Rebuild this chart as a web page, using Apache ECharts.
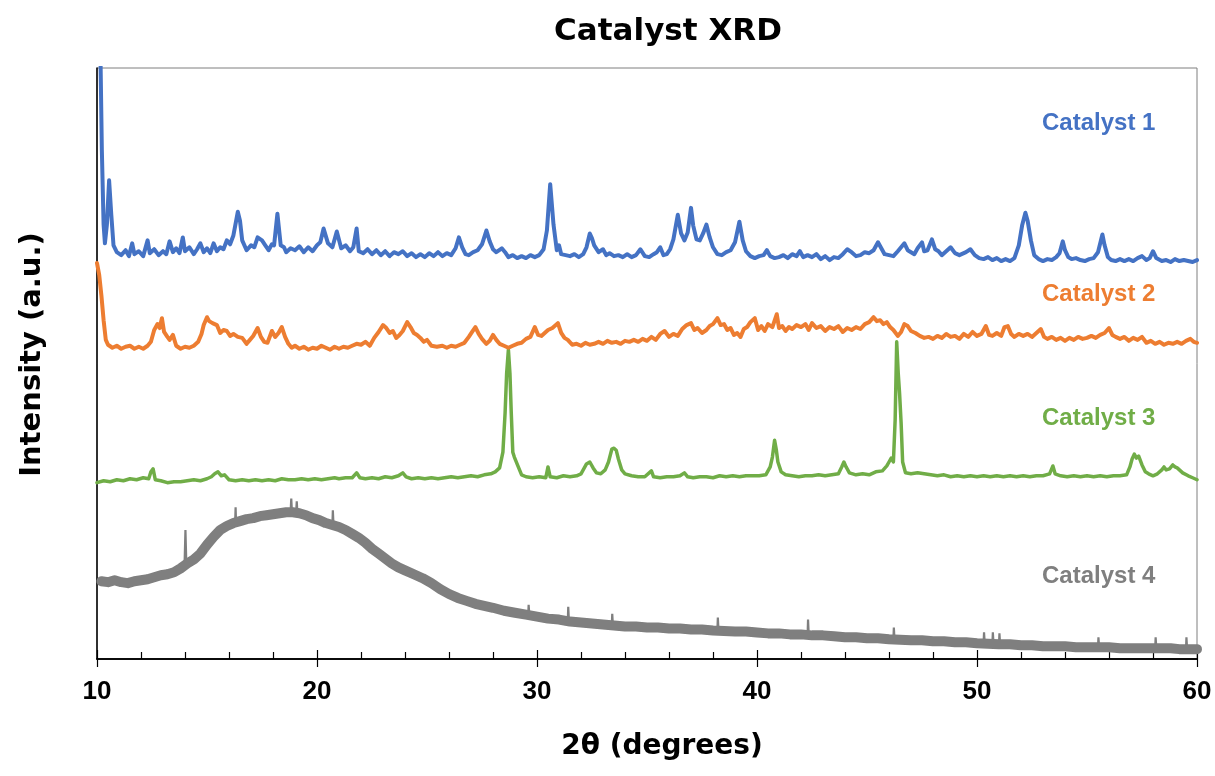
<!DOCTYPE html>
<html>
<head>
<meta charset="utf-8">
<script src="https://cdn.jsdelivr.net/npm/echarts@6/dist/echarts.min.js"></script>
<style>html,body{margin:0;padding:0;background:#fff}#c{width:1215px;height:776px}</style>
</head>
<body>
<div id="c"></div>
<script>
// x tick labels (2θ, degrees)
const xTicks = [10, 20, 30, 40, 50, 60];
const seriesNames = ['Catalyst 1', 'Catalyst 2', 'Catalyst 3', 'Catalyst 4'];

// [2θ, intensity (a.u., offset traces as plotted)]
const cat1 = [
[10.0,650],[10.1,700],[10.22,517],[10.3,441],[10.36,422],[10.45,441],[10.55,486],[10.65,451],[10.75,420],[10.9,413],
[11.1,410],[11.3,415],[11.45,409],[11.6,422],[11.7,411],[11.9,414],[12.1,409],[12.3,425],[12.4,412],[12.6,416],[12.8,410],[13.0,414],[13.15,411],[13.3,424],[13.45,413],[13.6,417],[13.75,412],[13.9,428],[14.0,414],[14.2,418],[14.4,411],[14.55,416],[14.7,422],[14.85,413],[15.0,417],[15.15,412],[15.3,422],[15.45,414],[15.6,418],[15.75,416],[15.9,425],[16.05,421],
[16.2,430],[16.4,454],[16.5,445],[16.6,425],[16.8,415],[17.0,420],[17.15,418],[17.3,428],[17.5,425],[17.65,420],[17.8,415],[17.95,421],[18.05,420],[18.2,452],[18.35,420],[18.5,418],[18.6,413],[18.8,417],[19.0,415],[19.2,419],[19.4,413],[19.6,418],[19.8,414],[20.0,420],[20.15,423],[20.3,437],[20.5,422],[20.7,418],[20.9,434],[21.1,417],[21.3,420],[21.5,414],[21.65,418],[21.8,437],[21.9,414],[22.1,412],[22.3,416],
[22.5,411],[22.7,415],[22.9,410],[23.1,414],[23.3,409],[23.5,413],[23.7,411],[23.9,414],[24.1,409],[24.3,412],[24.5,408],[24.7,411],[24.9,408],[25.1,412],[25.3,409],[25.5,413],[25.7,409],[25.9,412],[26.1,410],[26.3,417],[26.45,428],[26.6,418],[26.75,411],[26.9,410],[27.1,413],[27.3,415],[27.5,421],[27.7,435],[27.85,424],[28.0,416],[28.15,413],[28.4,417],[28.55,413],[28.7,408],[28.9,410],[29.1,407],[29.3,409],[29.5,407],[29.7,410],[29.9,408],[30.1,410],[30.3,416],[30.45,435],[30.6,482],[30.75,441],[30.9,415],[31.0,420],[31.1,411],[31.3,410],[31.5,409],[31.7,411],[31.9,408],[32.1,411],[32.25,418],[32.4,432],[32.5,427],[32.6,420],[32.8,413],[33.0,416],[33.15,410],[33.3,412],[33.5,409],[33.7,410],[33.9,408],[34.1,411],[34.3,408],[34.5,410],[34.7,416],[34.9,409],[35.1,408],[35.3,411],[35.45,413],[35.6,418],[35.75,410],[35.9,411],[36.05,416],[36.2,426],[36.4,451],[36.55,432],[36.7,425],[36.85,433],[37.0,458],[37.1,440],[37.25,426],[37.4,425],[37.55,432],[37.7,441],[37.85,428],[38.0,418],[38.2,411],[38.4,410],[38.6,413],[38.8,415],[39.0,423],[39.2,444],[39.35,425],[39.5,414],[39.7,409],[39.9,407],[40.1,409],[40.3,410],[40.45,415],[40.6,409],[40.8,407],[41.0,408],
[41.2,410],[41.4,407],[41.6,411],[41.8,409],[41.95,414],[42.1,408],[42.3,410],[42.5,408],[42.7,411],[42.9,406],[43.1,409],[43.3,405],[43.5,408],[43.7,407],[43.9,411],[44.1,416],[44.3,413],[44.5,409],[44.7,410],[44.9,413],[45.1,412],[45.3,415],[45.5,423],[45.65,417],[45.8,411],[46.0,410],[46.2,409],[46.4,414],[46.55,418],[46.7,422],[46.85,415],[47.0,413],[47.15,411],[47.3,417],[47.5,423],[47.6,414],[47.75,415],[47.95,426],[48.1,416],[48.25,414],[48.4,410],[48.6,414],[48.8,418],[49.0,412],[49.2,410],[49.5,413],[49.7,416],[49.9,410],[50.1,407],[50.3,406],[50.5,408],[50.7,405],[50.9,407],[51.1,404],[51.3,406],[51.5,404],[51.7,407],[51.9,420],[52.05,440],[52.2,453],[52.3,445],[52.45,425],[52.6,410],[52.8,406],[53.0,404],[53.2,406],[53.4,405],[53.6,408],[53.75,412],[53.9,424],[54.0,415],[54.15,408],[54.3,406],[54.5,407],[54.7,405],[54.9,404],[55.1,406],[55.3,407],[55.5,413],[55.7,431],[55.8,420],[55.95,408],[56.1,405],[56.3,404],[56.5,406],[56.7,404],[56.9,406],[57.1,404],[57.3,407],[57.5,409],[57.7,405],[57.85,407],[58.0,414],[58.15,407],[58.4,404],[58.6,405],[58.8,403],[59.0,406],[59.2,404],[59.4,405],[59.6,404],[59.8,403],[60.0,405]
];

const cat2 = [
[10.0,402],[10.1,390],[10.2,369],[10.3,344],[10.4,324],[10.5,319],[10.7,316],[10.9,318],[11.1,315],[11.3,317],[11.5,318],[11.7,315],[11.9,317],[12.1,315],[12.3,318],[12.45,322],[12.6,334],[12.75,340],[12.85,336],[12.95,346],[13.05,332],[13.2,327],[13.3,324],[13.45,329],[13.6,318],[13.8,315],[14.0,317],[14.2,316],[14.4,318],[14.6,322],[14.75,330],[14.85,339],[15.0,347],[15.1,343],[15.25,341],[15.45,339],[15.6,331],[15.75,334],[15.9,333],[16.05,328],[16.2,330],[16.4,327],[16.6,326],[16.8,320],[16.95,324],[17.1,328],[17.3,336],[17.45,327],[17.6,322],[17.75,321],[17.95,333],[18.1,327],[18.25,331],[18.4,337],[18.55,327],[18.7,320],[18.85,316],[19.0,318],[19.2,315],[19.4,317],[19.6,314],[19.8,316],[20.0,315],[20.2,318],[20.4,316],[20.6,314],[20.8,317],[21.0,315],[21.2,317],[21.4,316],[21.6,318],[21.8,320],[22.0,319],[22.2,322],[22.4,318],[22.6,326],[22.8,332],[23.0,339],[23.15,336],[23.3,331],[23.45,333],[23.6,326],[23.75,329],[23.9,333],[24.1,342],[24.25,337],[24.4,331],[24.55,329],[24.7,326],[24.85,322],[25.0,324],[25.2,318],[25.45,317],[25.7,318],[25.9,316],[26.1,318],[26.3,317],[26.5,319],[26.7,321],[26.9,327],[27.05,332],[27.2,337],[27.35,330],[27.5,325],[27.7,320],[27.85,323],[28.0,329],[28.15,324],[28.3,320],[28.5,318],[28.7,316],[28.9,318],[29.1,320],[29.3,321],[29.5,325],[29.7,327],[29.9,337],[30.05,329],[30.2,328],[30.35,331],[30.5,334],[30.7,336],[30.95,341],[31.1,331],[31.25,326],[31.4,324],[31.6,319],[31.8,320],[32.0,318],[32.2,321],[32.4,319],[32.6,320],[32.8,322],[33.0,320],[33.2,323],[33.4,321],[33.6,322],[33.8,320],[34.0,323],[34.2,322],[34.4,324],[34.6,322],[34.8,325],[35.0,323],[35.2,327],[35.4,324],[35.6,330],[35.8,333],[36.0,327],[36.2,330],[36.4,328],[36.6,335],[36.8,339],[37.0,341],[37.15,334],[37.3,336],[37.5,331],[37.7,334],[37.85,338],[38.0,340],[38.2,346],[38.35,339],[38.5,340],[38.65,334],[38.8,336],[38.95,329],[39.1,331],[39.25,327],[39.4,335],[39.55,337],[39.7,342],[39.9,346],[40.05,334],[40.2,338],[40.35,333],[40.5,340],[40.7,337],[40.9,350],[41.0,336],[41.15,338],[41.3,333],[41.45,337],[41.6,335],[41.8,339],[42.0,337],[42.2,340],[42.35,334],[42.5,341],[42.7,336],[42.9,338],[43.1,333],[43.3,337],[43.5,335],[43.7,338],[43.9,332],[44.1,336],[44.3,334],[44.5,337],[44.7,335],[44.9,340],[45.1,342],[45.3,347],[45.45,343],[45.6,344],[45.75,340],[45.9,342],[46.05,337],[46.2,334],[46.4,328],[46.55,332],[46.7,340],[46.85,338],[47.0,333],[47.2,331],[47.4,328],[47.6,326],[47.8,327],[48.0,325],[48.2,328],[48.4,326],[48.6,330],[48.8,327],[49.0,328],[49.2,325],[49.4,330],[49.6,327],[49.8,332],[50.0,328],[50.2,330],[50.4,338],[50.55,329],[50.7,328],[50.9,331],[51.1,328],[51.25,337],[51.4,338],[51.55,330],[51.7,327],[51.9,330],[52.1,328],[52.3,330],[52.5,327],[52.7,331],[52.9,335],[53.05,327],[53.2,325],[53.4,327],[53.6,324],[53.8,326],[54.0,323],[54.2,326],[54.4,324],[54.6,327],[54.8,325],[55.0,326],[55.2,328],[55.4,326],[55.6,329],[55.8,331],[56.0,336],[56.15,329],[56.3,327],[56.5,325],[56.7,327],[56.9,323],[57.1,326],[57.3,324],[57.5,327],[57.7,321],[57.9,323],[58.1,320],[58.3,322],[58.5,319],[58.7,321],[58.9,320],[59.1,322],[59.3,320],[59.5,323],[59.7,325],[59.85,322],[60.0,321]
];

const cat3 = [
[10.0,179],[10.3,181],[10.6,180],[10.9,182],[11.2,181],[11.5,183],[11.8,182],[12.1,184],[12.35,183],[12.45,190],[12.55,193],[12.65,182],[12.9,181],[13.2,179],[13.5,180],[13.8,180],[14.1,181],[14.4,182],[14.7,181],[15.0,183],[15.2,185],[15.35,188],[15.5,190],[15.65,186],[15.8,187],[16.0,182],[16.3,181],[16.6,182],[16.9,181],[17.2,182],[17.5,181],[17.8,182],[18.1,181],[18.4,183],[18.7,182],[19.0,182],[19.3,183],[19.6,182],[19.9,183],[20.2,182],[20.5,183],[20.8,184],[21.0,183],[21.3,184],[21.6,184],[21.8,189],[21.95,184],[22.2,183],[22.5,184],[22.8,183],[23.1,185],[23.4,184],[23.7,186],[23.9,189],[24.05,185],[24.3,183],[24.6,184],[24.9,183],[25.2,184],[25.5,183],[25.8,184],[26.1,185],[26.4,184],[26.7,185],[27.0,186],[27.3,185],[27.6,187],[27.9,188],[28.1,190],[28.3,194],[28.45,210],[28.55,250],[28.62,290],[28.7,314],[28.77,290],[28.83,250],[28.9,210],[28.97,205],[29.05,207],[29.15,195],[29.3,187],[29.5,185],[29.8,184],[30.1,185],[30.4,184],[30.5,195],[30.6,185],[30.9,184],[31.2,186],[31.5,185],[31.8,186],[32.0,188],[32.15,194],[32.25,198],[32.4,200],[32.55,194],[32.7,189],[32.9,188],[33.1,192],[33.25,200],[33.4,213],[33.5,214],[33.6,212],[33.7,203],[33.85,192],[34.0,188],[34.3,186],[34.6,185],[34.9,185],[35.2,191],[35.3,185],[35.6,184],[35.9,185],[36.2,185],[36.5,186],[36.7,189],[36.85,185],[37.1,184],[37.4,185],[37.7,185],[38.0,184],[38.3,186],[38.6,185],[38.9,186],[39.2,185],[39.5,186],[39.8,186],[40.1,186],[40.4,187],[40.6,195],[40.7,205],[40.8,222],[40.88,212],[40.95,200],[41.1,190],[41.3,187],[41.6,186],[41.9,185],[42.2,186],[42.5,186],[42.8,187],[43.1,186],[43.4,187],[43.7,188],[43.85,195],[43.95,200],[44.05,195],[44.2,189],[44.5,187],[44.8,188],[45.1,187],[45.4,190],[45.7,191],[45.9,196],[46.0,200],[46.1,204],[46.2,200],[46.28,243],[46.35,322],[46.42,290],[46.48,270],[46.55,240],[46.62,200],[46.75,189],[47.0,188],[47.3,189],[47.6,188],[47.9,187],[48.2,186],[48.5,187],[48.8,185],[49.1,186],[49.4,185],[49.7,186],[50.0,185],[50.3,186],[50.6,185],[50.9,186],[51.2,185],[51.5,186],[51.8,185],[52.1,186],[52.4,185],[52.7,186],[53.0,186],[53.3,188],[53.45,196],[53.55,188],[53.8,186],[54.1,185],[54.4,186],[54.7,185],[55.0,186],[55.3,185],[55.6,186],[55.9,185],[56.2,186],[56.5,186],[56.8,187],[56.95,195],[57.05,203],[57.15,208],[57.25,204],[57.35,206],[57.5,197],[57.65,190],[57.8,188],[58.0,186],[58.2,188],[58.4,192],[58.5,195],[58.6,192],[58.75,193],[58.9,197],[59.0,195],[59.1,194],[59.2,192],[59.35,189],[59.6,186],[59.8,184],[60.0,182]
];

// broad amorphous hump (band centre)
const cat4 = [
[10.2,79],[10.5,78],[10.8,80],[11.1,78],[11.4,77],[11.7,79],[12.0,80],[12.3,81],[12.6,83],[12.9,85],[13.2,86],[13.5,88],[13.8,92],[14.1,97],[14.4,101],[14.7,107],[15.0,116],[15.3,124],[15.6,131],[15.9,135],[16.2,138],[16.5,140],[16.8,142],[17.1,143],[17.4,145],[17.7,146],[18.0,147],[18.3,148],[18.6,149],[18.9,149],[19.2,148],[19.5,146],[19.8,143],[20.1,141],[20.4,138],[20.7,136],[21.0,134],[21.3,131],[21.6,127],[21.9,123],[22.2,118],[22.5,112],[22.8,107],[23.1,102],[23.4,97],[23.7,93],[24.0,90],[24.4,86],[24.8,82],[25.2,77],[25.6,71],[26.0,66],[26.4,62],[26.8,59],[27.2,56],[27.6,54],[28.0,52],[28.5,49],[29.0,47],[29.5,45],[30.0,43],[30.5,41],[31.0,40],[31.5,38],[32.0,37],[32.5,36],[33.0,35],[33.5,34],[34.0,33],[34.5,33],[35.0,32],[35.5,32],[36.0,31],[36.5,31],[37.0,30],[37.5,30],[38.0,29],[39.0,28],[39.5,28],[40.0,27],[40.5,26],[41.0,26],[41.5,25],[42.0,25],[42.5,24],[43.0,24],[43.5,23],[44.0,22],[44.5,22],[45.0,21],[45.5,21],[46.0,20],[47.0,19],[47.5,19],[48.0,18],[48.5,18],[49.0,17],[49.5,17],[50.0,16],[51.0,15],[51.5,15],[52.0,14],[52.5,14],[53.0,13],[53.5,13],[54.0,13],[54.5,12],[55.0,12],[56.0,12],[56.5,11],[57.0,11],[57.5,11],[58.0,11],[58.8,11],[59.2,10],[60.0,10]
];
// narrow noise spikes on Catalyst 4 (base, apex, base)
const cat4Spikes = [
[13.98,96],[14.02,131],[14.06,97],[14.06,null],
[16.28,139],[16.3,154],[16.32,139],[16.32,null],
[18.8,149],[18.83,163],[18.86,149],[18.86,null],
[19.05,148],[19.08,160],[19.11,148],[19.11,null],
[20.7,136],[20.72,151],[20.75,136],[20.75,null],
[29.6,45],[29.62,55],[29.65,45],[29.65,null],
[31.4,39],[31.42,53],[31.45,39],[31.45,null],
[33.4,34],[33.42,46],[33.45,34],[33.45,null],
[38.2,29],[38.22,42],[38.25,29],[38.25,null],
[42.3,25],[42.32,40],[42.35,25],[42.35,null],
[46.2,20],[46.22,32],[46.25,20],[46.25,null],
[50.3,16],[50.32,27],[50.35,16],[50.35,null],
[50.7,16],[50.72,27],[50.75,16],[50.75,null],
[51.0,15],[51.02,26],[51.05,15],[51.05,null],
[55.5,12],[55.52,22],[55.55,12],[55.55,null],
[58.1,11],[58.12,22],[58.15,11],[58.15,null],
[59.5,10],[59.52,22],[59.55,10]
];

const colors = ['#4472C4', '#ED7D31', '#70AD47', '#7F7F7F'];
const seriesData = [cat1, cat2, cat3, cat4];
const widths = [4, 4, 3.5, 10];
const labelPos = [[1042, 123], [1042, 294], [1042, 418], [1042, 576]];

const chart = echarts.init(document.getElementById('c'), null, {renderer: 'canvas'});
const headFont = '"DejaVu Sans", "Open Sans", sans-serif';
const arial = '"Liberation Sans", Arial, sans-serif';

const series = seriesData.map((d, i) => ({
  name: seriesNames[i], type: 'line', data: d, xAxisIndex: 0,
  showSymbol: false, symbol: 'none', clip: true,
  lineStyle: {color: colors[i], width: widths[i], join: 'round', cap: 'round'},
  z: 10 - i
}));
series.push({
  name: seriesNames[3] + ' spikes', type: 'line', data: cat4Spikes, xAxisIndex: 0,
  showSymbol: false, symbol: 'none', clip: true, connectNulls: false,
  lineStyle: {color: colors[3], width: 2.2}, z: 6
});

const option = {
  backgroundColor: '#ffffff',
  animation: false,
  title: {
    text: 'Catalyst XRD',
    left: 663, top: 11, textAlign: 'center',
    textStyle: {fontFamily: headFont, fontWeight: 'bold', fontSize: 31, color: '#000'}
  },
  grid: {left: 97, right: 18, top: 68, bottom: 117, show: true, borderColor: '#7f7f7f', borderWidth: 1},
  xAxis: [{
    type: 'value', min: xTicks[0], max: xTicks[xTicks.length - 1], interval: 10,
    position: 'bottom',
    axisLine: {show: true, lineStyle: {color: '#000', width: 1.5}},
    axisTick: {show: true, inside: true, length: 9, lineStyle: {color: '#000', width: 1.2}},
    minorTick: {show: true, splitNumber: 5, length: 7, lineStyle: {color: '#000', width: 1.2}},
    splitLine: {show: false},
    axisLabel: {show: true, margin: 20, color: '#000', fontFamily: arial, fontWeight: 'bold', fontSize: 26},
    name: '2θ (degrees)', nameLocation: 'middle', nameGap: 74,
    nameTextStyle: {fontFamily: headFont, fontWeight: 'bold', fontSize: 28, color: '#000', padding: [0, 0, 0, 30]}
  }, {
    type: 'value', min: xTicks[0], max: xTicks[xTicks.length - 1], interval: 10,
    position: 'bottom', offset: 0,
    axisLine: {show: true, lineStyle: {color: '#000', width: 1.5}},
    axisTick: {show: true, inside: false, length: 8, lineStyle: {color: '#000', width: 1.2}},
    splitLine: {show: false},
    axisLabel: {show: false}
  }],
  yAxis: {
    type: 'value', min: 0, max: 600,
    axisLine: {show: true, lineStyle: {color: '#000', width: 1.5}},
    axisTick: {show: false}, axisLabel: {show: false}, splitLine: {show: false},
    name: 'Intensity (a.u.)', nameLocation: 'middle', nameGap: 50,
    nameTextStyle: {fontFamily: headFont, fontWeight: 'bold', fontSize: 29, color: '#000', padding: [0, 0, 0, 18]}
  },
  series: series,
  graphic: seriesNames.map((n, i) => ({
    type: 'text', z: 100,
    style: {text: n, x: labelPos[i][0], y: labelPos[i][1], verticalAlign: 'middle', align: 'left',
      fill: colors[i], font: 'bold 24px ' + arial}
  }))
};
chart.setOption(option);
</script>
</body>
</html>
